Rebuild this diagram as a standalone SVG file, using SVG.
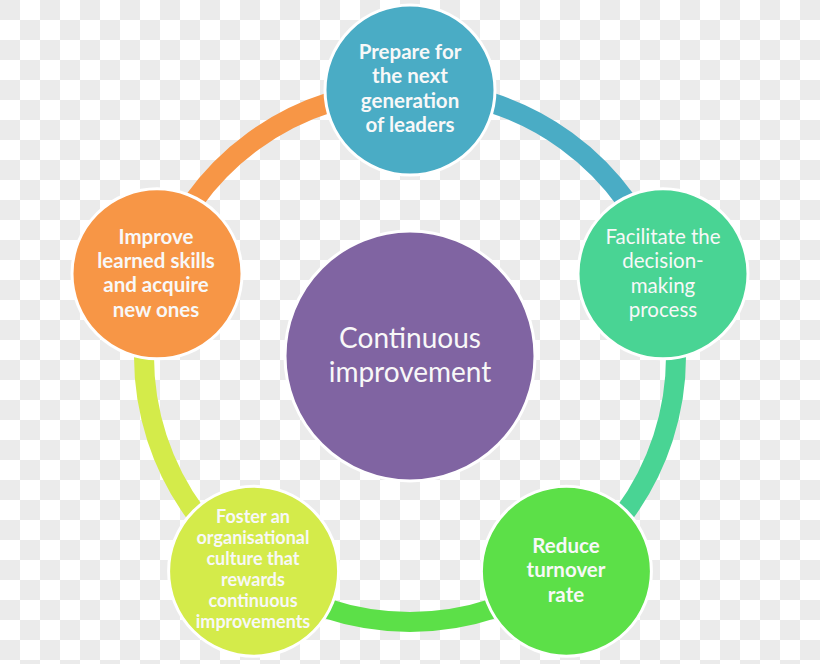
<svg xmlns="http://www.w3.org/2000/svg" width="820" height="664" viewBox="0 0 820 664">
  <defs>
    <pattern id="checker" x="0" y="0" width="40" height="40" patternUnits="userSpaceOnUse">
      <rect width="40" height="40" fill="#ffffff"/>
      <rect x="0" y="0" width="20" height="20" fill="#ebebeb"/>
      <rect x="20" y="20" width="20" height="20" fill="#ebebeb"/>
    </pattern>
  </defs>
  <style>
    .arc { fill: none; stroke-width: 20; }
    .node { stroke: #ffffff; stroke-width: 3; }
    .t { font-family: "Lato", "Open Sans", "Liberation Sans", sans-serif; fill: #f8f8f8; text-anchor: middle; }
    .b { font-weight: bold; font-size: 20.5px; }
    .r { font-weight: normal; font-size: 20.5px; }
    .s { font-weight: bold; font-size: 18px; }
    .c { font-weight: normal; font-size: 28px; }
  </style>
  <rect width="820" height="664" fill="url(#checker)"/>

  <g id="connectors">
    <path class="arc" stroke="#4aacc5" d="M 410 90 A 266 266 0 0 1 663 273.8"/>
    <path class="arc" stroke="#49d494" d="M 663 273.8 A 266 266 0 0 1 566.4 571.2"/>
    <path class="arc" stroke="#5ce048" d="M 566.4 571.2 A 266 266 0 0 1 253.6 571.2"/>
    <path class="arc" stroke="#d4eb4a" d="M 253.6 571.2 A 266 266 0 0 1 157 273.8"/>
    <path class="arc" stroke="#f79646" d="M 157 273.8 A 266 266 0 0 1 410 90"/>
  </g>

  <g id="center">
    <circle class="node" cx="410" cy="356" r="125" fill="#8064a2" stroke-width="2"/>
    <text class="t c" x="410" y="348">Continuous</text>
    <text class="t c" x="410" y="382">improvement</text>
  </g>

  <g id="node-top">
    <circle class="node" cx="410" cy="90" r="85" fill="#4aacc5"/>
    <text class="t b" x="410" y="59">Prepare for</text>
    <text class="t b" x="410" y="83">the next</text>
    <text class="t b" x="410" y="108">generation</text>
    <text class="t b" x="410" y="132">of leaders</text>
  </g>

  <g id="node-right">
    <circle class="node" cx="663" cy="273.8" r="85" fill="#49d494"/>
    <text class="t r" x="663" y="244">Facilitate the</text>
    <text class="t r" x="663" y="268">decision-</text>
    <text class="t r" x="663" y="293">making</text>
    <text class="t r" x="663" y="317">process</text>
  </g>

  <g id="node-bottom-right">
    <circle class="node" cx="566.4" cy="571.2" r="85" fill="#5ce048"/>
    <text class="t b" x="566" y="553">Reduce</text>
    <text class="t b" x="566" y="577">turnover</text>
    <text class="t b" x="566" y="602">rate</text>
  </g>

  <g id="node-bottom-left">
    <circle class="node" cx="253.6" cy="571.2" r="85" fill="#d4eb4a"/>
    <text class="t s" x="253" y="523">Foster an</text>
    <text class="t s" x="253" y="544">organisational</text>
    <text class="t s" x="253" y="565">culture that</text>
    <text class="t s" x="253" y="586">rewards</text>
    <text class="t s" x="253" y="607">continuous</text>
    <text class="t s" x="253" y="628">improvements</text>
  </g>

  <g id="node-left">
    <circle class="node" cx="157" cy="273.8" r="85" fill="#f79646"/>
    <text class="t b" x="156" y="244">Improve</text>
    <text class="t b" x="156" y="268">learned skills</text>
    <text class="t b" x="156" y="292">and acquire</text>
    <text class="t b" x="156" y="317">new ones</text>
  </g>
</svg>
